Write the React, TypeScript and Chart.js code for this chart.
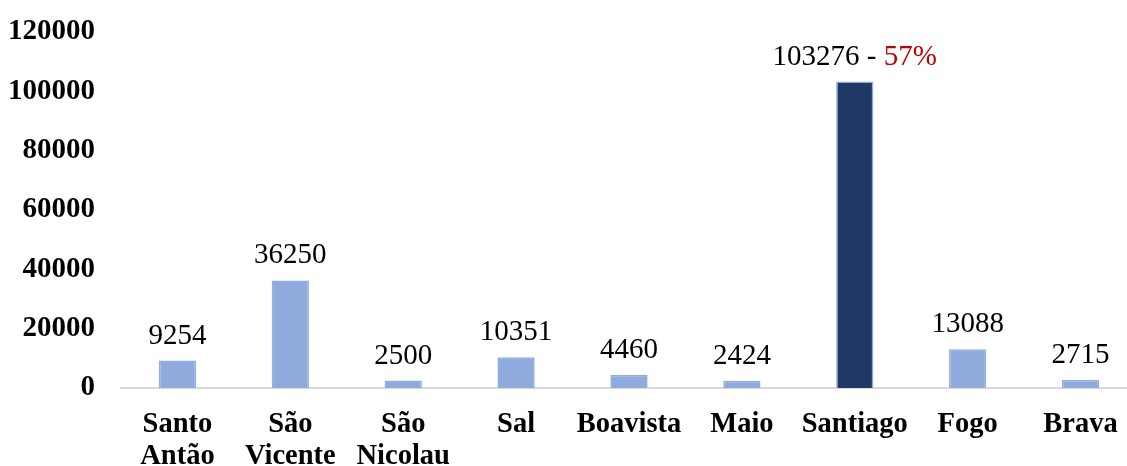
import React, { useEffect, useRef } from "react";
import { Chart, registerables } from "chart.js";

Chart.register(...registerables);

const categories: (string | string[])[] = [
  ["Santo", "Antão"],
  ["São", "Vicente"],
  ["São", "Nicolau"],
  "Sal",
  "Boavista",
  "Maio",
  "Santiago",
  "Fogo",
  "Brava",
];
const values = [9254, 36250, 2500, 10351, 4460, 2424, 103276, 13088, 2715];
const highlightIndex = 6;
const highlightPercent = "57%";
const yTicks = [0, 20000, 40000, 60000, 80000, 100000, 120000];

const SERIF = "'Times New Roman', 'Liberation Serif', serif";

const labelPlugin = {
  id: "valueLabels",
  afterDatasetsDraw(chart: any) {
    const ctx = chart.ctx;
    const meta = chart.getDatasetMeta(0);
    ctx.save();
    ctx.font = `29px ${SERIF}`;
    ctx.textBaseline = "alphabetic";
    meta.data.forEach((bar: any, i: number) => {
      const v = String(values[i]);
      const y = bar.y - 17;
      if (i === highlightIndex) {
        const a = v + " - ";
        const b = highlightPercent;
        const wa = ctx.measureText(a).width;
        const wb = ctx.measureText(b).width;
        const x0 = bar.x - (wa + wb) / 2;
        ctx.textAlign = "left";
        ctx.fillStyle = "#000000";
        ctx.fillText(a, x0, y);
        ctx.fillStyle = "#C00000";
        ctx.fillText(b, x0 + wa, y);
      } else {
        ctx.textAlign = "center";
        ctx.fillStyle = "#000000";
        ctx.fillText(v, bar.x, y);
      }
    });
    ctx.restore();
  },
};

export default function App() {
  const ref = useRef<HTMLCanvasElement>(null);
  useEffect(() => {
    if (!ref.current) return;
    const chart = new Chart(ref.current, {
      type: "bar",
      data: {
        labels: categories,
        datasets: [
          {
            data: values,
            backgroundColor: values.map((_, i) => (i === highlightIndex ? "#203864" : "#8FAADC")),
            borderColor: values.map((_, i) => (i === highlightIndex ? "#8FAADC" : "#92ACDD")),
            borderWidth: 1.5,
            barPercentage: 0.33,
            categoryPercentage: 1,
          },
        ],
      },
      options: {
        animation: false,
        responsive: false,
        maintainAspectRatio: false,
        layout: { padding: { top: 32, right: 3, left: 0, bottom: 0 } },
        plugins: { legend: { display: false }, tooltip: { enabled: false } },
        scales: {
          x: {
            afterFit(scale: any) {
              scale.height = 78;
            },
            grid: { display: false, drawTicks: false },
            border: { display: true, color: "#D9D9D9", width: 2 },
            ticks: {
              color: "#000000",
              font: { family: SERIF, size: 28.5, weight: "bold", lineHeight: 1.12 },
              padding: 21,
              maxRotation: 0,
              autoSkip: false,
            },
          },
          y: {
            min: 0,
            max: 120000,
            afterBuildTicks(scale: any) {
              scale.ticks = yTicks.map((v) => ({ value: v }));
            },
            afterFit(scale: any) {
              scale.width = 121;
            },
            grid: { display: false, drawTicks: true, tickLength: 26 },
            border: { display: false },
            ticks: {
              color: "#000000",
              font: { family: SERIF, size: 29, weight: "bold" },
              padding: 0,
              callback: (v: any) => String(v),
            },
          },
        },
      },
      plugins: [labelPlugin],
    });
    return () => chart.destroy();
  }, []);
  return (
    <div style={{ position: "absolute", left: 0, top: 0, width: 1127, height: 466, overflow: "hidden", background: "#fff" }}>
      <canvas ref={ref} width={1140} height={466} style={{ display: "block", width: 1140, height: 466 }} />
    </div>
  );
}
